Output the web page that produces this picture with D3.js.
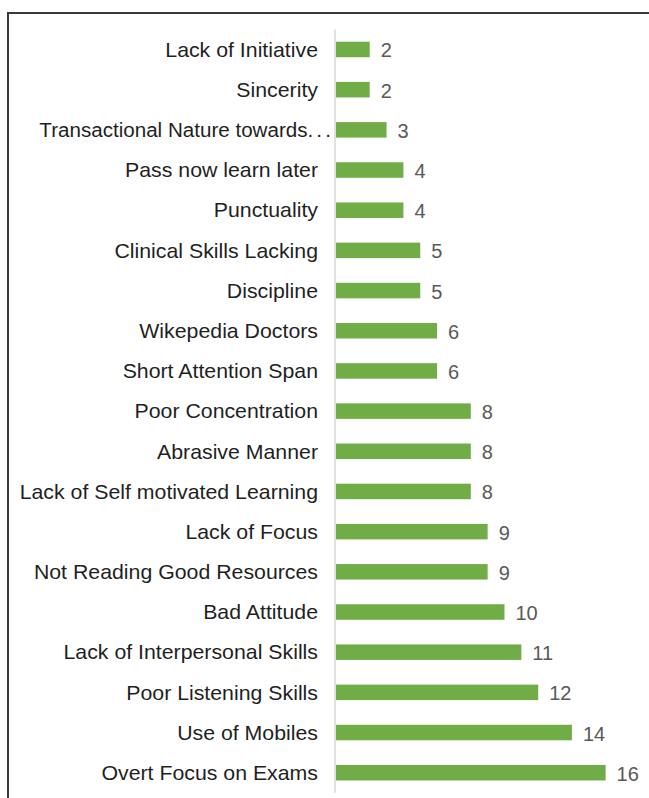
<!DOCTYPE html>
<html>
<head>
<meta charset="utf-8">
<script src="https://cdn.jsdelivr.net/npm/d3@7"></script>
<style>
  html, body { margin: 0; padding: 0; background: #fff; }
  svg { display: block; }
</style>
</head>
<body>
<svg id="chart" width="649" height="798"></svg>
<script>
const categories = [
  "Lack of Initiative",
  "Sincerity",
  "Transactional Nature towards...",
  "Pass now learn later",
  "Punctuality",
  "Clinical Skills Lacking",
  "Discipline",
  "Wikepedia Doctors",
  "Short Attention Span",
  "Poor Concentration",
  "Abrasive Manner",
  "Lack of Self motivated Learning",
  "Lack of Focus",
  "Not Reading Good Resources",
  "Bad Attitude",
  "Lack of Interpersonal Skills",
  "Poor Listening Skills",
  "Use of Mobiles",
  "Overt Focus on Exams"
];
const values = [2, 2, 3, 4, 4, 5, 5, 6, 6, 8, 8, 8, 9, 9, 10, 11, 12, 14, 16];

const svg = d3.select("#chart");

// outer frame
svg.append("rect")
  .attr("x", 8).attr("y", 13)
  .attr("width", 700).attr("height", 820)
  .attr("fill", "none")
  .attr("stroke", "#3a3a3a")
  .attr("stroke-width", 2);

const y = d3.scaleBand()
  .domain(categories)
  .range([29.4, 792.8])
  .paddingInner(0.614)
  .paddingOuter(0.307);

const x = d3.scaleLinear()
  .domain([0, 16])
  .range([336, 605.6]);

// bars
svg.append("g").selectAll("rect")
  .data(categories)
  .join("rect")
  .attr("x", x(0))
  .attr("y", d => y(d))
  .attr("width", (d, i) => x(values[i]) - x(0))
  .attr("height", y.bandwidth())
  .attr("fill", "#70AD47");

// axis line
svg.append("line")
  .attr("x1", 335).attr("x2", 335)
  .attr("y1", 29.4).attr("y2", 792.8)
  .attr("stroke", "#d9d9d9")
  .attr("stroke-width", 1.5);

// category labels
const labels = svg.append("g").selectAll("text")
  .data(categories)
  .join("text")
  .attr("transform", d => {
    const truncated = d.endsWith("...");
    return truncated
      ? `translate(334,${y(d) + y.bandwidth() / 2}) scale(1.03,1)`
      : `translate(318,${y(d) + y.bandwidth() / 2}) scale(1.065,1)`;
  })
  .attr("text-anchor", "end")
  .attr("dominant-baseline", "central")
  .attr("font-family", "Liberation Sans, Arial, sans-serif")
  .attr("font-size", 20)
  .attr("fill", "#1f1f1f");

labels.each(function(d) {
  const t = d3.select(this);
  if (d.endsWith("...")) {
    t.append("tspan").text(d.slice(0, -3));
    t.append("tspan").attr("letter-spacing", 3).text("...");
  } else {
    t.text(d);
  }
});

// value labels
svg.append("g").selectAll("text")
  .data(categories)
  .join("text")
  .attr("x", (d, i) => x(values[i]) + 11)
  .attr("y", d => y(d) + y.bandwidth() / 2 + 1)
  .attr("dominant-baseline", "central")
  .attr("font-family", "Liberation Sans, Arial, sans-serif")
  .attr("font-size", 20)
  .attr("fill", "#595959")
  .text((d, i) => values[i]);
</script>
</body>
</html>
